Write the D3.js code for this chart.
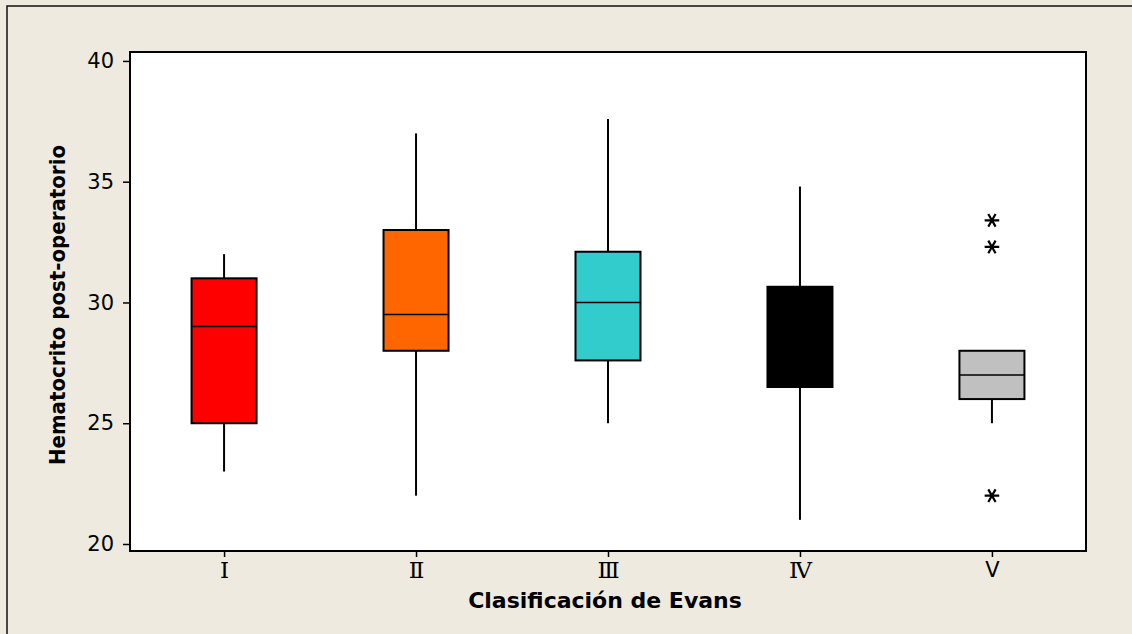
<!DOCTYPE html>
<meta charset="utf-8">
<style>
body { margin: 0; background: #eeeae0; }
.axis text { font-family: "DejaVu Sans", Verdana, sans-serif; font-size: 21px; fill: #000; }
.axis--x text { font-family: "DejaVu Serif", serif; font-size: 23px; }
.axis path { display: none; }
.axis line { stroke: #000; stroke-width: 1.5px; }
.title { font-family: "DejaVu Sans", Verdana, sans-serif; font-weight: bold; font-size: 22px; }
</style>
<svg width="1132" height="634"></svg>
<script src="https://d3js.org/d3.v7.min.js"></script>
<script>

var groups = ["Ⅰ", "Ⅱ", "Ⅲ", "Ⅳ", "V"];
var colors = ["#ff0000", "#ff6600", "#33cccc", "#000000", "#c0c0c0"];
var lowWhisker = [23, 22, 25, 21, 25];
var q1 = [25, 28, 27.6, 26.5, 26];
var median = [29, 29.5, 30, 29, 27];
var q3 = [31, 33, 32.1, 30.65, 28];
var highWhisker = [32, 37, 37.6, 34.8, 28];
var outliers = [
  {group: "V", value: 33.4},
  {group: "V", value: 32.3},
  {group: "V", value: 22}
];
var yTicks = [20, 25, 30, 35, 40];

var svg = d3.select("svg"),
    margin = {top: 52, right: 46, bottom: 83, left: 130},
    width = svg.attr("width") - margin.left - margin.right,
    height = svg.attr("height") - margin.top - margin.bottom;

// outer frame
svg.append("rect")
    .attr("x", 7).attr("y", 6)
    .attr("width", 1140).attr("height", 640)
    .attr("fill", "#eeeae0")
    .attr("stroke", "#111").attr("stroke-width", 1.5);

var g = svg.append("g").attr("transform", "translate(" + margin.left + "," + margin.top + ")");

var x = d3.scalePoint().domain(groups).range([0, width]).padding(0.49);
var y = d3.scaleLinear().domain([19.71, 40.37]).range([height, 0]);

g.append("rect")
    .attr("width", width).attr("height", height)
    .attr("fill", "#fff")
    .attr("stroke", "#000").attr("stroke-width", 2);

g.append("g")
    .attr("class", "axis axis--y")
    .call(d3.axisLeft(y).tickValues(yTicks).tickSize(7).tickPadding(9));

g.append("g")
    .attr("class", "axis axis--x")
    .attr("transform", "translate(0," + height + ")")
    .call(d3.axisBottom(x).tickSize(6).tickPadding(5));

// the last label is a plain sans V in the original
g.selectAll(".axis--x .tick text")
    .filter(function(d) { return d === "V"; })
    .style("font-family", "'DejaVu Sans', sans-serif")
    .style("font-size", "21px");

var boxes = groups.map(function(k, i) {
  return {key: k, color: colors[i], lo: lowWhisker[i], q1: q1[i], med: median[i], q3: q3[i], hi: highWhisker[i]};
});

var boxW = 65;
var box = g.selectAll(".box")
    .data(boxes)
  .enter().append("g")
    .attr("class", "box")
    .attr("transform", function(d) { return "translate(" + x(d.key) + ",0)"; });

box.append("line")
    .attr("y1", function(d) { return y(d.hi); })
    .attr("y2", function(d) { return y(d.q3); })
    .attr("stroke", "#000").attr("stroke-width", 2);

box.append("line")
    .attr("y1", function(d) { return y(d.q1); })
    .attr("y2", function(d) { return y(d.lo); })
    .attr("stroke", "#000").attr("stroke-width", 2);

box.append("rect")
    .attr("x", -boxW / 2)
    .attr("width", boxW)
    .attr("y", function(d) { return y(d.q3); })
    .attr("height", function(d) { return y(d.q1) - y(d.q3); })
    .attr("fill", function(d) { return d.color; })
    .attr("stroke", "#000").attr("stroke-width", 2);

box.append("line")
    .attr("x1", -boxW / 2).attr("x2", boxW / 2)
    .attr("y1", function(d) { return y(d.med); })
    .attr("y2", function(d) { return y(d.med); })
    .attr("stroke", "#000").attr("stroke-width", 1.5);

var star = d3.symbol().type(d3.symbolAsterisk).size(150);
g.selectAll(".outlier")
    .data(outliers)
  .enter().append("path")
    .attr("class", "outlier")
    .attr("d", star)
    .attr("transform", function(d) { return "translate(" + x(d.group) + "," + y(d.value) + ") rotate(90)"; })
    .attr("fill", "none")
    .attr("stroke", "#000").attr("stroke-width", 2.2);

svg.append("text")
    .attr("class", "title")
    .attr("x", 605).attr("y", 608)
    .attr("text-anchor", "middle")
    .text("Clasificación de Evans");

svg.append("text")
    .attr("class", "title")
    .attr("transform", "translate(65,305) rotate(-90)")
    .attr("text-anchor", "middle")
    .style("font-family", "'DejaVu Sans Condensed', 'DejaVu Sans', sans-serif")
    .style("font-size", "22px")
    .text("Hematocrito post-operatorio");

</script>
